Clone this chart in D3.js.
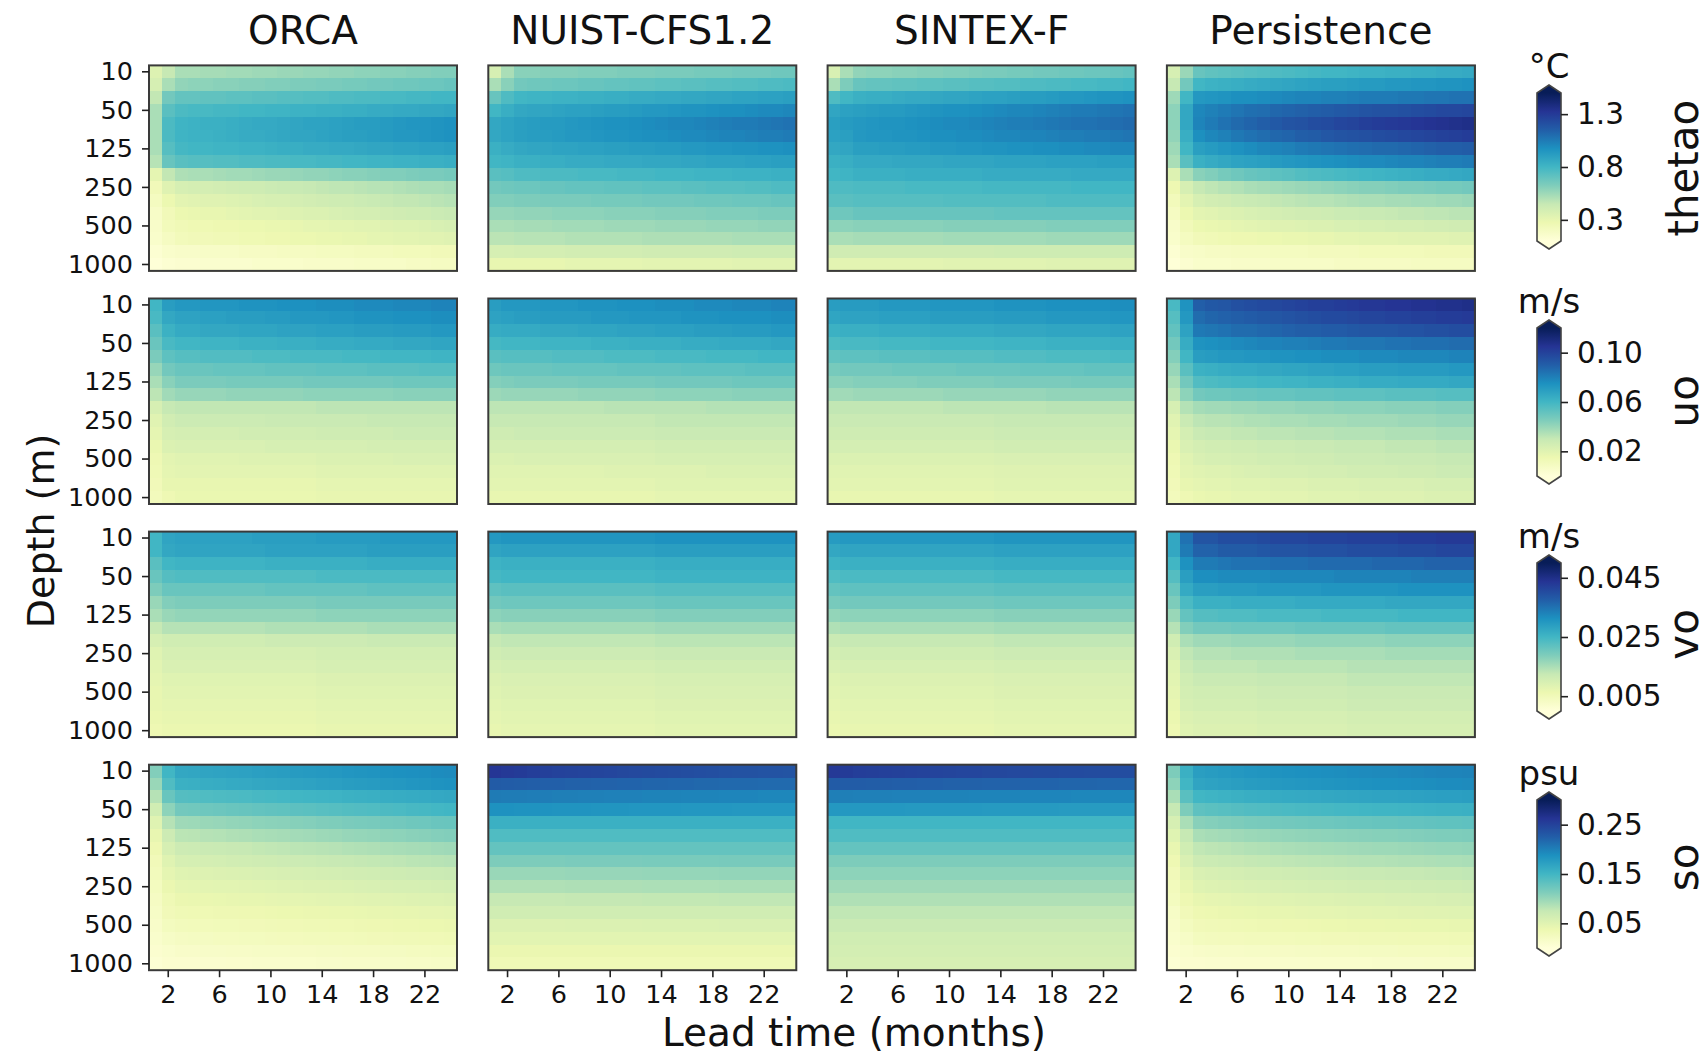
<!DOCTYPE html>
<html>
<head>
<meta charset="utf-8">
<script src="https://cdn.jsdelivr.net/npm/d3@7"></script>
<style>
body{margin:0;background:#fff}
svg{display:block;font-family:"DejaVu Sans",sans-serif}
</style>
</head>
<body>
<svg id="chart" width="1708" height="1062"></svg>
<script>
// categories
var depths = [10,20,30,50,75,100,125,150,200,250,300,400,500,600,800,1000];
var leads = [1,2,3,4,5,6,7,8,9,10,11,12,13,14,15,16,17,18,19,20,21,22,23,24];
var depthTicks = [10,50,125,250,500,1000];
var leadTicks = [2,6,10,14,18,22];
var models = ["ORCA","NUIST-CFS1.2","SINTEX-F","Persistence"];
var variables = ["thetao","uo","vo","so"];
var units = ["°C","m/s","m/s","psu"];
var cbDomains = [[0.1,1.5],[0,0.12],[0,0.05],[0,0.3]];
var cbTicks = [[0.3,0.8,1.3],[0.02,0.06,0.10],[0.005,0.025,0.045],[0.05,0.15,0.25]];
var cbFormats = [".1f",".2f",".3f",".2f"];

// thetao (degC), rows = depth, cols = lead month
var thetaoORCA = [
[.35,.45,.52,.52,.53,.53,.54,.54,.55,.55,.56,.56,.57,.57,.58,.58,.59,.59,.60,.60,.61,.61,.62,.62],
[.38,.52,.58,.59,.59,.60,.60,.61,.61,.62,.62,.63,.63,.64,.64,.65,.65,.66,.66,.67,.67,.68,.68,.69],
[.46,.66,.70,.70,.71,.71,.72,.72,.73,.73,.74,.74,.75,.75,.76,.76,.77,.77,.78,.78,.79,.79,.80,.80],
[.52,.73,.77,.78,.78,.79,.79,.80,.80,.81,.81,.82,.82,.83,.83,.84,.84,.85,.85,.86,.86,.87,.87,.88],
[.52,.77,.81,.82,.83,.83,.84,.85,.86,.86,.87,.88,.89,.89,.90,.91,.92,.92,.93,.94,.95,.95,.96,.97],
[.52,.77,.81,.82,.82,.83,.84,.85,.85,.86,.87,.88,.88,.89,.90,.91,.91,.92,.93,.94,.94,.95,.96,.97],
[.52,.74,.79,.80,.80,.81,.81,.82,.82,.83,.84,.84,.85,.85,.86,.86,.87,.88,.88,.89,.89,.90,.90,.91],
[.49,.69,.73,.74,.74,.75,.75,.76,.76,.77,.77,.78,.78,.79,.79,.80,.80,.81,.81,.82,.82,.83,.83,.84],
[.31,.46,.51,.52,.52,.53,.54,.54,.55,.56,.56,.57,.58,.58,.59,.60,.60,.61,.62,.62,.63,.64,.64,.65],
[.24,.34,.38,.39,.39,.40,.41,.42,.42,.43,.44,.44,.45,.46,.47,.47,.48,.49,.49,.50,.51,.52,.52,.53],
[.21,.28,.32,.33,.34,.34,.35,.36,.37,.38,.38,.39,.40,.41,.42,.42,.43,.44,.45,.46,.46,.47,.48,.49],
[.18,.24,.28,.29,.30,.30,.31,.32,.33,.33,.34,.35,.36,.36,.37,.38,.39,.39,.40,.41,.42,.42,.43,.44],
[.17,.23,.25,.26,.26,.27,.27,.28,.28,.29,.29,.30,.31,.31,.32,.32,.33,.33,.34,.35,.35,.36,.37,.38],
[.16,.20,.23,.24,.24,.25,.25,.26,.26,.27,.27,.28,.28,.29,.29,.30,.30,.31,.31,.32,.32,.33,.33,.34],
[.13,.16,.17,.17,.18,.18,.18,.19,.19,.19,.20,.20,.20,.21,.21,.21,.22,.22,.22,.23,.23,.23,.24,.24],
[.11,.13,.14,.14,.15,.15,.15,.15,.16,.16,.16,.16,.17,.17,.17,.17,.18,.18,.18,.18,.19,.19,.20,.20]
];
var thetaoNUIST = [
[.38,.52,.60,.60,.61,.61,.61,.62,.62,.62,.63,.63,.63,.64,.64,.64,.65,.65,.65,.66,.66,.66,.67,.67],
[.52,.60,.66,.67,.67,.68,.68,.69,.69,.70,.70,.71,.71,.72,.72,.73,.73,.74,.74,.75,.75,.76,.76,.77],
[.69,.76,.80,.81,.81,.82,.82,.83,.83,.84,.84,.85,.85,.86,.86,.87,.87,.88,.88,.89,.89,.90,.90,.91],
[.80,.84,.87,.88,.88,.89,.90,.90,.91,.92,.92,.93,.94,.94,.95,.96,.96,.97,.98,.98,.99,1.00,1.00,1.01],
[.87,.89,.91,.92,.93,.93,.94,.95,.96,.97,.97,.98,.99,1.00,1.01,1.01,1.02,1.03,1.04,1.05,1.05,1.06,1.07,1.08],
[.87,.89,.91,.92,.92,.93,.94,.94,.95,.96,.96,.97,.98,.98,.99,1.00,1.00,1.01,1.02,1.02,1.03,1.04,1.04,1.05],
[.83,.85,.87,.88,.88,.89,.89,.90,.90,.91,.91,.92,.92,.93,.93,.94,.94,.95,.95,.96,.96,.97,.97,.98],
[.80,.81,.83,.83,.84,.84,.85,.85,.85,.86,.86,.86,.87,.87,.87,.88,.88,.89,.89,.89,.90,.90,.91,.91],
[.73,.74,.76,.76,.77,.77,.77,.78,.78,.78,.79,.79,.79,.80,.80,.80,.81,.81,.81,.82,.82,.82,.83,.83],
[.66,.67,.68,.68,.69,.69,.70,.70,.70,.71,.71,.71,.72,.72,.72,.73,.73,.74,.74,.74,.75,.75,.76,.76],
[.62,.62,.63,.63,.64,.64,.64,.64,.65,.65,.65,.65,.66,.66,.66,.66,.67,.67,.67,.68,.68,.68,.69,.69],
[.57,.57,.58,.58,.58,.59,.59,.59,.59,.60,.60,.60,.60,.61,.61,.61,.61,.62,.62,.62,.62,.63,.63,.63],
[.52,.52,.53,.53,.53,.54,.54,.54,.54,.55,.55,.55,.55,.56,.56,.56,.56,.57,.57,.57,.57,.58,.58,.58],
[.48,.48,.49,.49,.49,.49,.50,.50,.50,.50,.50,.50,.51,.51,.51,.51,.51,.51,.51,.52,.52,.52,.52,.52],
[.38,.38,.39,.39,.39,.39,.40,.40,.40,.40,.40,.40,.41,.41,.41,.41,.41,.41,.41,.42,.42,.42,.42,.42],
[.30,.30,.30,.30,.30,.30,.31,.31,.31,.31,.31,.31,.32,.32,.32,.32,.32,.32,.32,.33,.33,.33,.33,.33]
];
var thetaoSINTEX = [
[.37,.52,.58,.59,.59,.60,.60,.61,.61,.62,.62,.63,.64,.64,.65,.65,.66,.66,.67,.67,.68,.68,.69,.70],
[.52,.63,.69,.70,.70,.71,.71,.72,.72,.73,.73,.74,.74,.75,.75,.76,.76,.77,.77,.78,.78,.79,.79,.80],
[.76,.80,.83,.84,.84,.85,.86,.86,.87,.88,.88,.89,.90,.90,.91,.92,.92,.93,.94,.94,.95,.96,.96,.97],
[.88,.90,.91,.92,.93,.93,.94,.95,.96,.97,.97,.98,.99,1.00,1.01,1.01,1.02,1.03,1.04,1.05,1.05,1.06,1.07,1.08],
[.91,.93,.94,.95,.96,.96,.97,.98,.99,1.00,1.00,1.01,1.02,1.03,1.04,1.04,1.05,1.06,1.07,1.08,1.08,1.09,1.10,1.11],
[.90,.91,.94,.95,.95,.96,.96,.97,.98,.98,.99,.99,1.00,1.01,1.01,1.02,1.02,1.03,1.04,1.04,1.05,1.05,1.06,1.07],
[.87,.88,.91,.91,.92,.92,.93,.93,.94,.94,.95,.95,.96,.96,.97,.97,.98,.98,.99,.99,1.00,1.00,1.01,1.01],
[.83,.84,.86,.86,.86,.87,.87,.87,.87,.88,.88,.88,.88,.89,.89,.89,.89,.90,.90,.90,.90,.91,.91,.91],
[.80,.81,.83,.83,.83,.83,.84,.84,.84,.84,.84,.84,.85,.85,.85,.85,.85,.85,.85,.86,.86,.86,.86,.86],
[.76,.76,.77,.77,.77,.77,.78,.78,.78,.78,.78,.78,.79,.79,.79,.79,.79,.79,.79,.80,.80,.80,.80,.80],
[.73,.73,.74,.74,.74,.74,.74,.74,.74,.75,.75,.75,.75,.75,.75,.75,.75,.76,.76,.76,.76,.76,.76,.76],
[.67,.67,.69,.69,.69,.69,.69,.69,.69,.69,.69,.69,.69,.70,.70,.70,.70,.70,.70,.70,.70,.70,.70,.70],
[.59,.59,.60,.60,.60,.60,.60,.60,.60,.61,.61,.61,.61,.61,.61,.61,.61,.62,.62,.62,.62,.62,.62,.62],
[.52,.52,.53,.53,.53,.53,.53,.53,.53,.54,.54,.54,.54,.54,.54,.54,.54,.55,.55,.55,.55,.55,.55,.55],
[.41,.41,.41,.41,.41,.41,.41,.41,.41,.41,.41,.41,.41,.42,.42,.42,.42,.42,.42,.42,.42,.42,.42,.42],
[.32,.32,.32,.32,.32,.32,.32,.32,.32,.33,.33,.33,.33,.33,.33,.33,.33,.34,.34,.34,.34,.34,.34,.34]
];
var thetaoPersist = [
[.38,.56,.69,.71,.72,.73,.74,.75,.76,.77,.78,.79,.80,.80,.81,.82,.82,.83,.83,.84,.84,.85,.85,.86],
[.45,.66,.80,.82,.83,.84,.85,.86,.87,.88,.89,.90,.91,.91,.92,.93,.93,.94,.94,.95,.95,.96,.96,.97],
[.55,.80,.94,.95,.96,.98,.98,.99,1.00,1.01,1.02,1.02,1.03,1.03,1.04,1.05,1.05,1.05,1.06,1.06,1.07,1.07,1.08,1.08],
[.59,.87,1.01,1.03,1.05,1.07,1.09,1.10,1.12,1.13,1.14,1.15,1.16,1.17,1.18,1.19,1.20,1.20,1.21,1.22,1.23,1.24,1.24,1.25],
[.59,.87,1.02,1.05,1.08,1.11,1.13,1.15,1.17,1.19,1.20,1.22,1.23,1.25,1.26,1.28,1.29,1.30,1.31,1.32,1.33,1.34,1.35,1.36],
[.58,.84,.98,1.01,1.03,1.06,1.08,1.10,1.12,1.13,1.15,1.16,1.18,1.19,1.20,1.21,1.22,1.23,1.24,1.25,1.26,1.27,1.28,1.29],
[.55,.80,.91,.93,.95,.97,.99,1.01,1.02,1.03,1.05,1.06,1.07,1.08,1.09,1.10,1.11,1.11,1.12,1.13,1.14,1.15,1.15,1.16],
[.52,.73,.83,.85,.87,.89,.90,.91,.93,.94,.95,.96,.97,.98,.99,1.00,1.00,1.01,1.02,1.02,1.03,1.04,1.04,1.05],
[.35,.52,.60,.62,.65,.67,.69,.70,.72,.73,.75,.76,.77,.78,.79,.80,.81,.82,.83,.84,.85,.85,.86,.87],
[.27,.38,.45,.47,.49,.50,.52,.53,.54,.55,.56,.57,.58,.59,.60,.61,.61,.62,.63,.63,.64,.65,.65,.66],
[.23,.32,.38,.40,.41,.43,.44,.45,.46,.47,.48,.49,.49,.50,.51,.52,.52,.53,.53,.54,.54,.55,.55,.56],
[.20,.28,.32,.33,.35,.36,.37,.38,.39,.40,.41,.41,.42,.43,.43,.44,.44,.45,.46,.46,.47,.47,.48,.48],
[.17,.24,.28,.29,.30,.31,.32,.33,.34,.34,.35,.36,.36,.37,.37,.38,.38,.39,.39,.39,.40,.40,.41,.41],
[.16,.21,.24,.25,.26,.27,.27,.28,.28,.29,.29,.30,.30,.31,.31,.32,.32,.32,.33,.33,.33,.33,.34,.34],
[.13,.17,.18,.19,.19,.20,.20,.20,.21,.21,.21,.22,.22,.22,.22,.23,.23,.23,.23,.23,.24,.24,.24,.24],
[.11,.14,.16,.16,.16,.17,.17,.17,.18,.18,.18,.18,.18,.19,.19,.19,.19,.19,.19,.20,.20,.20,.20,.20]
];

// uo (m/s)
var uoORCA = [
[.060,.070,.072,.072,.073,.073,.073,.074,.074,.074,.075,.075,.075,.076,.076,.076,.077,.077,.077,.078,.078,.078,.079,.079],
[.058,.066,.068,.068,.069,.069,.070,.070,.070,.071,.071,.072,.072,.072,.073,.073,.074,.074,.074,.075,.075,.075,.076,.076],
[.054,.062,.065,.065,.066,.066,.066,.067,.067,.067,.068,.068,.068,.069,.069,.069,.070,.070,.070,.071,.071,.071,.072,.072],
[.050,.058,.060,.060,.061,.061,.061,.062,.062,.062,.063,.063,.063,.064,.064,.064,.065,.065,.065,.066,.066,.066,.067,.067],
[.046,.053,.055,.055,.056,.056,.056,.056,.057,.057,.057,.058,.058,.058,.058,.059,.059,.059,.060,.060,.060,.060,.061,.061],
[.040,.048,.050,.050,.050,.051,.051,.051,.051,.052,.052,.052,.052,.053,.053,.053,.053,.054,.054,.054,.054,.055,.055,.055],
[.036,.043,.046,.046,.046,.046,.047,.047,.047,.047,.047,.047,.048,.048,.048,.048,.048,.048,.048,.049,.049,.049,.049,.049],
[.032,.038,.040,.040,.040,.040,.041,.041,.041,.041,.041,.041,.042,.042,.042,.042,.042,.042,.042,.043,.043,.043,.043,.043],
[.024,.030,.031,.031,.031,.031,.031,.031,.031,.031,.031,.031,.031,.032,.032,.032,.032,.032,.032,.032,.032,.032,.032,.032],
[.020,.026,.028,.028,.028,.028,.028,.028,.028,.029,.029,.029,.029,.029,.029,.029,.029,.030,.030,.030,.030,.030,.030,.030],
[.018,.024,.025,.025,.025,.025,.025,.026,.026,.026,.026,.026,.026,.027,.027,.027,.027,.027,.027,.028,.028,.028,.028,.028],
[.016,.022,.023,.023,.023,.023,.023,.023,.023,.024,.024,.024,.024,.024,.024,.024,.024,.025,.025,.025,.025,.025,.025,.025],
[.014,.019,.020,.020,.020,.020,.020,.021,.021,.021,.021,.021,.021,.022,.022,.022,.022,.022,.022,.023,.023,.023,.023,.023],
[.013,.018,.019,.019,.019,.019,.019,.019,.019,.019,.019,.019,.019,.020,.020,.020,.020,.020,.020,.020,.020,.020,.020,.020],
[.012,.017,.017,.017,.017,.017,.017,.017,.017,.017,.017,.017,.017,.018,.018,.018,.018,.018,.018,.018,.018,.018,.018,.018],
[.011,.014,.016,.016,.016,.016,.016,.016,.016,.016,.016,.016,.016,.017,.017,.017,.017,.017,.017,.017,.017,.017,.017,.017]
];
var uoNUIST = [
[.070,.072,.072,.072,.073,.073,.073,.074,.074,.074,.075,.075,.075,.076,.076,.076,.077,.077,.077,.078,.078,.078,.079,.079],
[.068,.069,.070,.070,.071,.071,.071,.071,.072,.072,.072,.073,.073,.073,.073,.074,.074,.074,.075,.075,.075,.075,.076,.076],
[.064,.065,.065,.065,.066,.066,.066,.067,.067,.067,.068,.068,.068,.069,.069,.069,.070,.070,.070,.071,.071,.071,.072,.072],
[.059,.060,.060,.060,.061,.061,.061,.061,.062,.062,.062,.063,.063,.063,.063,.064,.064,.064,.065,.065,.065,.065,.066,.066],
[.054,.055,.055,.055,.055,.056,.056,.056,.056,.057,.057,.057,.057,.058,.058,.058,.058,.059,.059,.059,.059,.060,.060,.060],
[.049,.050,.050,.050,.050,.051,.051,.051,.051,.051,.052,.052,.052,.052,.052,.053,.053,.053,.053,.053,.054,.054,.054,.054],
[.044,.045,.046,.046,.046,.046,.046,.047,.047,.047,.047,.047,.047,.048,.048,.048,.048,.048,.048,.049,.049,.049,.049,.049],
[.039,.040,.040,.040,.040,.040,.040,.041,.041,.041,.041,.041,.041,.042,.042,.042,.042,.042,.042,.043,.043,.043,.043,.043],
[.032,.032,.032,.032,.032,.032,.032,.032,.032,.033,.033,.033,.033,.033,.033,.033,.033,.034,.034,.034,.034,.034,.034,.034],
[.030,.030,.030,.030,.030,.030,.030,.030,.030,.030,.030,.030,.030,.031,.031,.031,.031,.031,.031,.031,.031,.031,.031,.031],
[.027,.027,.028,.028,.028,.028,.028,.028,.028,.028,.028,.028,.028,.029,.029,.029,.029,.029,.029,.029,.029,.029,.029,.029],
[.025,.025,.025,.025,.025,.025,.025,.025,.025,.025,.025,.025,.025,.026,.026,.026,.026,.026,.026,.026,.026,.026,.026,.026],
[.022,.022,.023,.023,.023,.023,.023,.023,.023,.023,.023,.023,.023,.024,.024,.024,.024,.024,.024,.024,.024,.024,.024,.024],
[.020,.020,.020,.020,.020,.020,.020,.020,.020,.021,.021,.021,.021,.021,.021,.021,.021,.022,.022,.022,.022,.022,.022,.022],
[.019,.019,.019,.019,.019,.019,.019,.019,.019,.019,.019,.019,.019,.020,.020,.020,.020,.020,.020,.020,.020,.020,.020,.020],
[.017,.017,.017,.017,.017,.017,.017,.017,.017,.017,.017,.017,.017,.018,.018,.018,.018,.018,.018,.018,.018,.018,.018,.018]
];
var uoSINTEX = [
[.070,.071,.071,.071,.072,.072,.072,.072,.073,.073,.073,.073,.073,.074,.074,.074,.074,.075,.075,.075,.075,.075,.076,.076],
[.067,.068,.068,.068,.069,.069,.069,.069,.070,.070,.070,.070,.070,.071,.071,.071,.071,.072,.072,.072,.072,.072,.073,.073],
[.062,.063,.063,.063,.064,.064,.064,.064,.065,.065,.065,.065,.065,.066,.066,.066,.066,.067,.067,.067,.067,.067,.068,.068],
[.057,.058,.058,.058,.059,.059,.059,.059,.060,.060,.060,.060,.060,.061,.061,.061,.061,.062,.062,.062,.062,.062,.063,.063],
[.052,.053,.053,.053,.054,.054,.054,.054,.055,.055,.055,.055,.055,.056,.056,.056,.056,.057,.057,.057,.057,.057,.058,.058],
[.047,.048,.048,.048,.048,.049,.049,.049,.049,.049,.050,.050,.050,.050,.050,.051,.051,.051,.051,.051,.052,.052,.052,.052],
[.043,.043,.044,.044,.044,.044,.044,.045,.045,.045,.045,.045,.045,.046,.046,.046,.046,.046,.046,.047,.047,.047,.047,.047],
[.038,.038,.039,.039,.039,.039,.039,.039,.039,.040,.040,.040,.040,.040,.040,.040,.040,.041,.041,.041,.041,.041,.041,.041],
[.031,.031,.031,.031,.031,.031,.031,.031,.031,.032,.032,.032,.032,.032,.032,.032,.032,.033,.033,.033,.033,.033,.033,.033],
[.029,.029,.029,.029,.029,.029,.029,.029,.029,.029,.029,.029,.029,.030,.030,.030,.030,.030,.030,.030,.030,.030,.030,.030],
[.027,.027,.027,.027,.027,.027,.027,.027,.027,.027,.027,.027,.027,.028,.028,.028,.028,.028,.028,.028,.028,.028,.028,.028],
[.025,.025,.025,.025,.025,.025,.025,.025,.025,.025,.025,.025,.025,.026,.026,.026,.026,.026,.026,.026,.026,.026,.026,.026],
[.022,.022,.022,.022,.022,.022,.022,.022,.022,.022,.022,.022,.022,.023,.023,.023,.023,.023,.023,.023,.023,.023,.023,.023],
[.020,.020,.020,.020,.020,.020,.020,.020,.020,.020,.020,.020,.020,.021,.021,.021,.021,.021,.021,.021,.021,.021,.021,.021],
[.019,.019,.019,.019,.019,.019,.019,.019,.019,.019,.019,.019,.019,.020,.020,.020,.020,.020,.020,.020,.020,.020,.020,.020],
[.017,.017,.017,.017,.017,.017,.017,.017,.017,.017,.017,.017,.017,.018,.018,.018,.018,.018,.018,.018,.018,.018,.018,.018]
];
var uoPersist = [
[.058,.074,.090,.092,.093,.095,.096,.097,.098,.099,.100,.101,.101,.102,.103,.104,.104,.105,.105,.106,.106,.107,.107,.108],
[.055,.072,.086,.088,.089,.090,.091,.092,.093,.094,.095,.096,.097,.097,.098,.099,.099,.100,.100,.101,.101,.102,.102,.103],
[.052,.068,.082,.083,.084,.086,.086,.087,.088,.089,.090,.090,.091,.091,.092,.093,.093,.093,.094,.094,.095,.095,.096,.096],
[.048,.064,.074,.075,.076,.077,.078,.079,.079,.080,.080,.081,.082,.082,.083,.083,.083,.084,.084,.085,.085,.085,.086,.086],
[.044,.060,.070,.071,.072,.072,.073,.073,.074,.074,.075,.075,.076,.076,.076,.077,.077,.077,.078,.078,.078,.078,.079,.079],
[.040,.054,.062,.063,.064,.065,.065,.066,.066,.067,.067,.068,.068,.069,.069,.070,.070,.070,.071,.071,.071,.071,.072,.072],
[.036,.048,.056,.057,.058,.059,.059,.060,.060,.061,.061,.062,.062,.063,.063,.064,.064,.064,.065,.065,.065,.065,.066,.066],
[.032,.042,.048,.049,.049,.050,.050,.051,.051,.051,.052,.052,.052,.053,.053,.053,.053,.054,.054,.054,.054,.055,.055,.055],
[.024,.034,.037,.038,.038,.039,.039,.040,.040,.040,.041,.041,.041,.042,.042,.042,.042,.043,.043,.043,.043,.044,.044,.044],
[.020,.029,.032,.033,.033,.034,.035,.035,.036,.036,.036,.037,.037,.037,.038,.038,.038,.038,.039,.039,.039,.040,.040,.040],
[.018,.025,.029,.030,.030,.031,.031,.032,.032,.032,.033,.033,.033,.034,.034,.034,.034,.035,.035,.035,.035,.036,.036,.036],
[.016,.023,.025,.026,.026,.027,.027,.028,.028,.028,.029,.029,.029,.030,.030,.030,.030,.031,.031,.031,.031,.032,.032,.032],
[.014,.020,.023,.024,.024,.025,.025,.026,.026,.026,.027,.027,.027,.028,.028,.028,.028,.029,.029,.029,.029,.030,.030,.030],
[.013,.019,.020,.021,.021,.022,.023,.023,.024,.024,.024,.025,.025,.025,.026,.026,.026,.026,.027,.027,.027,.028,.028,.028],
[.012,.017,.018,.019,.019,.020,.020,.020,.021,.021,.021,.022,.022,.022,.022,.023,.023,.023,.023,.023,.024,.024,.024,.024],
[.011,.014,.016,.017,.017,.018,.018,.018,.019,.019,.019,.020,.020,.020,.020,.021,.021,.021,.021,.021,.022,.022,.022,.022]
];

// vo (m/s)
var voORCA = [
[.025,.028,.0285,.0285,.0285,.0285,.0285,.0285,.029,.029,.029,.029,.029,.0295,.0295,.0295,.0295,.0295,.030,.030,.030,.030,.030,.030],
[.025,.0275,.028,.028,.028,.028,.028,.028,.028,.0285,.0285,.0285,.0285,.0285,.0285,.0285,.0285,.029,.029,.029,.029,.029,.029,.029],
[.0225,.025,.0255,.0255,.0255,.0255,.0255,.0255,.0255,.026,.026,.026,.026,.026,.026,.026,.026,.0265,.0265,.0265,.0265,.0265,.0265,.0265],
[.021,.023,.0235,.0235,.0235,.0235,.0235,.0235,.0235,.0235,.0235,.0235,.0235,.024,.024,.024,.024,.024,.024,.024,.024,.024,.024,.024],
[.019,.021,.021,.021,.021,.021,.021,.021,.021,.0215,.0215,.0215,.0215,.0215,.0215,.0215,.0215,.022,.022,.022,.022,.022,.022,.022],
[.0165,.0185,.019,.019,.019,.019,.019,.019,.019,.019,.019,.019,.019,.0195,.0195,.0195,.0195,.0195,.0195,.0195,.0195,.0195,.0195,.0195],
[.015,.0165,.017,.017,.017,.017,.017,.017,.017,.017,.017,.017,.017,.0175,.0175,.0175,.0175,.0175,.0175,.0175,.0175,.0175,.0175,.0175],
[.0125,.014,.014,.014,.014,.014,.014,.014,.014,.0145,.0145,.0145,.0145,.0145,.0145,.0145,.0145,.015,.015,.015,.015,.015,.015,.015],
[.010,.011,.011,.011,.011,.011,.011,.011,.011,.0115,.0115,.0115,.0115,.0115,.0115,.0115,.0115,.012,.012,.012,.012,.012,.012,.012],
[.0085,.010,.010,.010,.010,.010,.010,.010,.010,.010,.010,.010,.010,.0105,.0105,.0105,.0105,.0105,.0105,.0105,.0105,.0105,.0105,.0105],
[.008,.0095,.0095,.0095,.0095,.0095,.0095,.0095,.0095,.0095,.0095,.0095,.0095,.010,.010,.010,.010,.010,.010,.010,.010,.010,.010,.010],
[.0075,.0085,.0085,.0085,.0085,.0085,.0085,.0085,.0085,.0085,.0085,.0085,.0085,.009,.009,.009,.009,.009,.009,.009,.009,.009,.009,.009],
[.007,.008,.008,.008,.008,.008,.008,.008,.008,.008,.008,.008,.008,.0085,.0085,.0085,.0085,.0085,.0085,.0085,.0085,.0085,.0085,.0085],
[.007,.0075,.0075,.0075,.0075,.0075,.0075,.0075,.0075,.0075,.0075,.0075,.0075,.008,.008,.008,.008,.008,.008,.008,.008,.008,.008,.008],
[.0065,.007,.007,.007,.007,.007,.007,.007,.007,.007,.007,.007,.007,.0075,.0075,.0075,.0075,.0075,.0075,.0075,.0075,.0075,.0075,.0075],
[.006,.0065,.0065,.0065,.0065,.0065,.0065,.0065,.0065,.0065,.0065,.0065,.0065,.007,.007,.007,.007,.007,.007,.007,.007,.007,.007,.007]
];
var voNUIST = [
[.030,.0305,.0305,.0305,.0305,.0305,.0305,.0305,.0305,.0305,.0305,.0305,.0305,.031,.031,.031,.031,.031,.031,.031,.031,.031,.031,.031],
[.028,.0285,.0285,.0285,.0285,.0285,.0285,.0285,.0285,.0285,.0285,.0285,.0285,.029,.029,.029,.029,.029,.029,.029,.029,.029,.029,.029],
[.0255,.026,.026,.026,.026,.026,.026,.026,.026,.026,.026,.026,.026,.0265,.0265,.0265,.0265,.0265,.0265,.0265,.0265,.0265,.0265,.0265],
[.0245,.025,.025,.025,.025,.025,.025,.025,.025,.025,.025,.025,.025,.0255,.0255,.0255,.0255,.0255,.0255,.0255,.0255,.0255,.0255,.0255],
[.022,.0225,.0225,.0225,.0225,.0225,.0225,.0225,.0225,.0225,.0225,.0225,.0225,.023,.023,.023,.023,.023,.023,.023,.023,.023,.023,.023],
[.020,.0205,.0205,.0205,.0205,.0205,.0205,.0205,.0205,.0205,.0205,.0205,.0205,.021,.021,.021,.021,.021,.021,.021,.021,.021,.021,.021],
[.0175,.018,.018,.018,.018,.018,.018,.018,.018,.018,.018,.018,.018,.0185,.0185,.0185,.0185,.0185,.0185,.0185,.0185,.0185,.0185,.0185],
[.015,.0155,.0155,.0155,.0155,.0155,.0155,.0155,.0155,.0155,.0155,.0155,.0155,.016,.016,.016,.016,.016,.016,.016,.016,.016,.016,.016],
[.0125,.013,.013,.013,.013,.013,.013,.013,.013,.013,.013,.013,.013,.0135,.0135,.0135,.0135,.0135,.0135,.0135,.0135,.0135,.0135,.0135],
[.011,.0115,.0115,.0115,.0115,.0115,.0115,.0115,.0115,.0115,.0115,.0115,.0115,.012,.012,.012,.012,.012,.012,.012,.012,.012,.012,.012],
[.010,.0105,.0105,.0105,.0105,.0105,.0105,.0105,.0105,.0105,.0105,.0105,.0105,.011,.011,.011,.011,.011,.011,.011,.011,.011,.011,.011],
[.009,.0095,.0095,.0095,.0095,.0095,.0095,.0095,.0095,.0095,.0095,.0095,.0095,.010,.010,.010,.010,.010,.010,.010,.010,.010,.010,.010],
[.0085,.009,.009,.009,.009,.009,.009,.009,.009,.009,.009,.009,.009,.0095,.0095,.0095,.0095,.0095,.0095,.0095,.0095,.0095,.0095,.0095],
[.008,.0085,.0085,.0085,.0085,.0085,.0085,.0085,.0085,.0085,.0085,.0085,.0085,.009,.009,.009,.009,.009,.009,.009,.009,.009,.009,.009],
[.0075,.008,.008,.008,.008,.008,.008,.008,.008,.008,.008,.008,.008,.0085,.0085,.0085,.0085,.0085,.0085,.0085,.0085,.0085,.0085,.0085],
[.007,.0075,.0075,.0075,.0075,.0075,.0075,.0075,.0075,.0075,.0075,.0075,.0075,.008,.008,.008,.008,.008,.008,.008,.008,.008,.008,.008]
];
var voSINTEX = [
[.0295,.030,.030,.030,.030,.030,.030,.030,.030,.030,.030,.030,.030,.0305,.0305,.0305,.0305,.0305,.0305,.0305,.0305,.0305,.0305,.0305],
[.0275,.028,.028,.028,.028,.028,.028,.028,.028,.028,.028,.028,.028,.0285,.0285,.0285,.0285,.0285,.0285,.0285,.0285,.0285,.0285,.0285],
[.0255,.026,.026,.026,.026,.026,.026,.026,.026,.026,.026,.026,.026,.0265,.0265,.0265,.0265,.0265,.0265,.0265,.0265,.0265,.0265,.0265],
[.0235,.024,.024,.024,.024,.024,.024,.024,.024,.024,.024,.024,.024,.0245,.0245,.0245,.0245,.0245,.0245,.0245,.0245,.0245,.0245,.0245],
[.0215,.022,.022,.022,.022,.022,.022,.022,.022,.022,.022,.022,.022,.0225,.0225,.0225,.0225,.0225,.0225,.0225,.0225,.0225,.0225,.0225],
[.0195,.020,.020,.020,.020,.020,.020,.020,.020,.020,.020,.020,.020,.0205,.0205,.0205,.0205,.0205,.0205,.0205,.0205,.0205,.0205,.0205],
[.017,.0175,.0175,.0175,.0175,.0175,.0175,.0175,.0175,.0175,.0175,.0175,.0175,.018,.018,.018,.018,.018,.018,.018,.018,.018,.018,.018],
[.0145,.015,.015,.015,.015,.015,.015,.015,.015,.015,.015,.015,.015,.0155,.0155,.0155,.0155,.0155,.0155,.0155,.0155,.0155,.0155,.0155],
[.012,.0125,.0125,.0125,.0125,.0125,.0125,.0125,.0125,.0125,.0125,.0125,.0125,.013,.013,.013,.013,.013,.013,.013,.013,.013,.013,.013],
[.0105,.011,.011,.011,.011,.011,.011,.011,.011,.011,.011,.011,.011,.0115,.0115,.0115,.0115,.0115,.0115,.0115,.0115,.0115,.0115,.0115],
[.0095,.010,.010,.010,.010,.010,.010,.010,.010,.010,.010,.010,.010,.0105,.0105,.0105,.0105,.0105,.0105,.0105,.0105,.0105,.0105,.0105],
[.0085,.009,.009,.009,.009,.009,.009,.009,.009,.009,.009,.009,.009,.0095,.0095,.0095,.0095,.0095,.0095,.0095,.0095,.0095,.0095,.0095],
[.008,.0085,.0085,.0085,.0085,.0085,.0085,.0085,.0085,.0085,.0085,.0085,.0085,.009,.009,.009,.009,.009,.009,.009,.009,.009,.009,.009],
[.0075,.008,.008,.008,.008,.008,.008,.008,.008,.008,.008,.008,.008,.0085,.0085,.0085,.0085,.0085,.0085,.0085,.0085,.0085,.0085,.0085],
[.007,.0075,.0075,.0075,.0075,.0075,.0075,.0075,.0075,.0075,.0075,.0075,.0075,.008,.008,.008,.008,.008,.008,.008,.008,.008,.008,.008],
[.0065,.007,.007,.007,.007,.007,.007,.007,.007,.007,.007,.007,.007,.0075,.0075,.0075,.0075,.0075,.0075,.0075,.0075,.0075,.0075,.0075]
];
var voPersist = [
[.0275,.035,.039,.039,.040,.040,.040,.0405,.041,.041,.041,.0415,.0415,.0415,.042,.042,.042,.042,.0425,.0425,.0425,.043,.043,.043],
[.0275,.034,.037,.037,.038,.038,.038,.0385,.039,.039,.039,.0395,.0395,.0395,.040,.040,.040,.040,.0405,.0405,.0405,.041,.041,.041],
[.025,.031,.034,.034,.0345,.035,.035,.035,.0355,.0355,.0355,.036,.036,.036,.036,.036,.0365,.0365,.0365,.0365,.037,.037,.037,.037],
[.023,.029,.0315,.0315,.032,.032,.032,.032,.0325,.0325,.0325,.0325,.0325,.033,.033,.033,.033,.033,.033,.0335,.0335,.0335,.0335,.0335],
[.021,.027,.029,.029,.0295,.0295,.0295,.030,.030,.030,.030,.030,.0305,.0305,.0305,.0305,.0305,.0305,.031,.031,.031,.031,.031,.031],
[.019,.024,.026,.026,.026,.0265,.0265,.0265,.0265,.0265,.027,.027,.027,.027,.027,.027,.027,.0275,.0275,.0275,.0275,.0275,.0275,.0275],
[.0165,.0215,.023,.023,.0235,.0235,.0235,.024,.024,.024,.024,.024,.0245,.0245,.0245,.0245,.0245,.0245,.025,.025,.025,.025,.025,.025],
[.014,.0185,.020,.020,.020,.0205,.0205,.0205,.0205,.0205,.021,.021,.021,.021,.021,.021,.021,.0215,.0215,.0215,.0215,.0215,.0215,.0215],
[.011,.015,.016,.016,.016,.0165,.0165,.0165,.0165,.0165,.017,.017,.017,.017,.017,.017,.017,.0175,.0175,.0175,.0175,.0175,.0175,.0175],
[.0095,.013,.014,.014,.014,.0145,.0145,.0145,.0145,.0145,.015,.015,.015,.015,.015,.015,.015,.0155,.0155,.0155,.0155,.0155,.0155,.0155],
[.0085,.012,.013,.013,.013,.013,.013,.0135,.0135,.0135,.0135,.0135,.0135,.0135,.014,.014,.014,.014,.014,.014,.014,.014,.014,.014],
[.008,.011,.012,.012,.012,.012,.012,.0125,.0125,.0125,.0125,.0125,.0125,.0125,.013,.013,.013,.013,.013,.013,.013,.013,.013,.013],
[.0075,.0105,.011,.011,.011,.011,.011,.0115,.0115,.0115,.0115,.0115,.0115,.0115,.012,.012,.012,.012,.012,.012,.012,.012,.012,.012],
[.007,.010,.0105,.0105,.0105,.0105,.0105,.011,.011,.011,.011,.011,.011,.011,.0115,.0115,.0115,.0115,.0115,.0115,.0115,.0115,.0115,.0115],
[.0065,.009,.0095,.0095,.0095,.0095,.0095,.010,.010,.010,.010,.010,.010,.010,.0105,.0105,.0105,.0105,.0105,.0105,.0105,.0105,.0105,.0105],
[.006,.0085,.009,.009,.009,.009,.009,.0095,.0095,.0095,.0095,.0095,.0095,.0095,.010,.010,.010,.010,.010,.010,.010,.010,.010,.010]
];

// so (psu)
var soORCA = [
[.111,.150,.165,.166,.168,.169,.170,.171,.173,.174,.175,.177,.178,.179,.180,.182,.183,.184,.186,.187,.188,.189,.191,.192],
[.099,.141,.156,.157,.159,.160,.162,.163,.165,.166,.167,.169,.170,.172,.173,.175,.176,.177,.179,.180,.182,.183,.185,.186],
[.084,.126,.138,.139,.141,.142,.143,.144,.146,.147,.148,.150,.151,.152,.153,.155,.156,.157,.159,.160,.161,.162,.164,.165],
[.066,.105,.120,.121,.123,.124,.126,.127,.129,.130,.131,.133,.134,.136,.137,.139,.140,.141,.143,.144,.146,.147,.149,.150],
[.051,.084,.096,.097,.099,.100,.102,.103,.105,.106,.107,.109,.110,.112,.113,.115,.116,.117,.119,.120,.122,.123,.125,.126],
[.042,.069,.081,.082,.084,.085,.087,.088,.090,.091,.092,.094,.095,.097,.098,.100,.101,.102,.104,.105,.107,.108,.110,.111],
[.036,.060,.069,.070,.072,.073,.074,.075,.077,.078,.079,.081,.082,.083,.084,.086,.087,.088,.090,.091,.092,.093,.095,.096],
[.030,.051,.060,.061,.062,.063,.065,.066,.067,.068,.069,.070,.071,.073,.074,.075,.076,.077,.078,.079,.081,.082,.083,.084],
[.027,.045,.051,.052,.053,.054,.055,.056,.057,.058,.059,.060,.061,.062,.063,.064,.065,.066,.067,.068,.069,.070,.071,.072],
[.024,.039,.045,.046,.047,.048,.048,.049,.050,.051,.052,.053,.054,.054,.055,.056,.057,.058,.059,.060,.060,.061,.062,.063],
[.021,.033,.039,.040,.040,.041,.042,.043,.043,.044,.045,.045,.046,.047,.048,.048,.049,.050,.050,.051,.052,.053,.053,.054],
[.018,.030,.033,.034,.034,.035,.035,.036,.036,.037,.038,.038,.039,.039,.040,.040,.041,.042,.042,.043,.043,.044,.044,.045],
[.015,.024,.027,.028,.028,.029,.029,.030,.030,.031,.032,.032,.033,.033,.034,.034,.035,.036,.036,.037,.037,.038,.038,.039],
[.012,.018,.021,.022,.022,.023,.023,.024,.024,.025,.026,.026,.027,.027,.028,.028,.029,.030,.030,.031,.031,.032,.032,.033],
[.009,.012,.015,.015,.016,.016,.017,.017,.018,.018,.018,.019,.019,.020,.020,.021,.021,.021,.022,.022,.023,.023,.024,.024],
[.006,.009,.009,.009,.010,.010,.011,.011,.012,.012,.012,.013,.013,.014,.014,.015,.015,.015,.016,.016,.017,.017,.018,.018]
];
var soNUIST = [
[.261,.258,.256,.254,.252,.250,.249,.248,.247,.246,.245,.244,.243,.242,.241,.240,.239,.238,.237,.236,.236,.235,.235,.234],
[.228,.227,.226,.225,.224,.224,.223,.223,.222,.222,.221,.221,.220,.220,.219,.219,.218,.218,.217,.217,.217,.216,.216,.216],
[.204,.203,.203,.202,.202,.201,.201,.200,.200,.199,.199,.199,.198,.198,.198,.197,.197,.197,.196,.196,.196,.195,.195,.195],
[.186,.186,.185,.185,.185,.184,.184,.184,.183,.183,.183,.182,.182,.182,.182,.181,.181,.181,.181,.180,.180,.180,.180,.180],
[.156,.156,.156,.156,.156,.156,.156,.156,.156,.156,.156,.156,.156,.156,.156,.156,.156,.156,.156,.156,.156,.156,.156,.156],
[.141,.141,.141,.141,.141,.141,.141,.141,.141,.141,.141,.141,.141,.141,.141,.141,.141,.141,.141,.141,.141,.141,.141,.141],
[.129,.129,.129,.129,.129,.129,.129,.129,.129,.129,.129,.129,.129,.129,.129,.129,.129,.129,.129,.129,.129,.129,.129,.129],
[.114,.114,.114,.114,.114,.114,.115,.115,.115,.115,.115,.115,.116,.116,.116,.116,.116,.116,.117,.117,.117,.117,.117,.117],
[.099,.099,.099,.099,.099,.099,.100,.100,.100,.100,.100,.100,.101,.101,.101,.101,.101,.101,.102,.102,.102,.102,.102,.102],
[.087,.087,.087,.087,.087,.087,.088,.088,.088,.088,.088,.088,.089,.089,.089,.089,.089,.089,.090,.090,.090,.090,.090,.090],
[.075,.075,.075,.075,.075,.075,.076,.076,.076,.076,.076,.076,.077,.077,.077,.077,.077,.077,.078,.078,.078,.078,.078,.078],
[.066,.066,.066,.066,.066,.066,.066,.066,.066,.066,.066,.066,.066,.066,.066,.066,.066,.066,.066,.066,.066,.066,.066,.066],
[.054,.054,.054,.054,.054,.054,.055,.055,.055,.055,.055,.055,.056,.056,.056,.056,.056,.056,.057,.057,.057,.057,.057,.057],
[.048,.048,.048,.048,.048,.048,.048,.048,.048,.048,.048,.048,.048,.048,.048,.048,.048,.048,.048,.048,.048,.048,.048,.048],
[.039,.039,.039,.039,.039,.039,.039,.039,.039,.039,.039,.039,.039,.039,.039,.039,.039,.039,.039,.039,.039,.039,.039,.039],
[.033,.033,.033,.033,.033,.033,.033,.033,.033,.033,.033,.033,.033,.033,.033,.033,.033,.033,.033,.033,.033,.033,.033,.033]
];
var soSINTEX = [
[.258,.256,.254,.253,.252,.251,.250,.249,.248,.247,.246,.246,.245,.245,.244,.244,.243,.243,.242,.242,.241,.241,.240,.240],
[.228,.227,.227,.226,.226,.225,.225,.224,.224,.223,.223,.223,.222,.222,.222,.221,.221,.221,.220,.220,.220,.219,.219,.219],
[.201,.201,.200,.200,.200,.199,.199,.199,.198,.198,.198,.197,.197,.197,.197,.196,.196,.196,.196,.195,.195,.195,.195,.195],
[.180,.180,.180,.180,.180,.180,.179,.179,.179,.179,.179,.179,.178,.178,.178,.178,.178,.178,.177,.177,.177,.177,.177,.177],
[.150,.150,.150,.150,.150,.150,.150,.150,.150,.150,.150,.150,.150,.150,.150,.150,.150,.150,.150,.150,.150,.150,.150,.150],
[.141,.141,.141,.141,.141,.141,.141,.141,.141,.141,.141,.141,.141,.141,.141,.141,.141,.141,.141,.141,.141,.141,.141,.141],
[.129,.129,.129,.129,.129,.129,.129,.129,.129,.129,.129,.129,.129,.129,.129,.129,.129,.129,.129,.129,.129,.129,.129,.129],
[.114,.114,.114,.114,.114,.114,.114,.114,.114,.114,.114,.114,.114,.114,.114,.114,.114,.114,.114,.114,.114,.114,.114,.114],
[.105,.105,.105,.105,.105,.105,.105,.105,.105,.105,.105,.105,.105,.105,.105,.105,.105,.105,.105,.105,.105,.105,.105,.105],
[.096,.096,.096,.096,.096,.096,.096,.096,.096,.096,.096,.096,.096,.096,.096,.096,.096,.096,.096,.096,.096,.096,.096,.096],
[.087,.087,.087,.087,.087,.087,.087,.087,.087,.087,.087,.087,.087,.087,.087,.087,.087,.087,.087,.087,.087,.087,.087,.087],
[.078,.078,.078,.078,.078,.078,.078,.078,.078,.078,.078,.078,.078,.078,.078,.078,.078,.078,.078,.078,.078,.078,.078,.078],
[.072,.072,.072,.072,.072,.072,.072,.072,.072,.072,.072,.072,.072,.072,.072,.072,.072,.072,.072,.072,.072,.072,.072,.072],
[.066,.066,.066,.066,.066,.066,.066,.066,.066,.066,.066,.066,.066,.066,.066,.066,.066,.066,.066,.066,.066,.066,.066,.066],
[.063,.063,.063,.063,.063,.063,.063,.063,.063,.063,.063,.063,.063,.063,.063,.063,.063,.063,.063,.063,.063,.063,.063,.063],
[.060,.060,.060,.060,.060,.060,.060,.060,.060,.060,.060,.060,.060,.060,.060,.060,.060,.060,.060,.060,.060,.060,.060,.060]
];
var soPersist = [
[.114,.156,.174,.176,.178,.180,.182,.183,.185,.186,.187,.188,.189,.190,.191,.192,.193,.193,.194,.195,.196,.197,.197,.198],
[.105,.150,.168,.170,.172,.174,.176,.177,.179,.180,.181,.182,.183,.184,.185,.186,.187,.187,.188,.189,.190,.191,.191,.192],
[.090,.135,.150,.152,.154,.156,.158,.159,.161,.162,.163,.164,.165,.166,.167,.168,.169,.169,.170,.171,.172,.173,.173,.174],
[.075,.114,.132,.134,.136,.138,.140,.141,.143,.144,.145,.146,.147,.148,.149,.150,.151,.151,.152,.153,.154,.155,.155,.156],
[.060,.090,.108,.110,.112,.114,.116,.117,.119,.120,.121,.122,.123,.124,.125,.126,.127,.127,.128,.129,.130,.131,.131,.132],
[.051,.075,.090,.092,.094,.096,.098,.099,.101,.102,.103,.104,.105,.106,.107,.108,.109,.109,.110,.111,.112,.113,.113,.114],
[.042,.066,.078,.080,.082,.084,.086,.087,.089,.090,.091,.092,.093,.094,.095,.096,.097,.097,.098,.099,.100,.101,.101,.102],
[.036,.057,.069,.071,.073,.074,.076,.077,.078,.079,.080,.081,.082,.083,.084,.085,.085,.086,.087,.087,.088,.089,.089,.090],
[.030,.048,.057,.059,.061,.062,.064,.065,.066,.067,.068,.069,.070,.071,.072,.073,.073,.074,.075,.075,.076,.077,.077,.078],
[.027,.042,.051,.053,.054,.056,.057,.058,.059,.060,.061,.062,.062,.063,.064,.065,.065,.066,.066,.067,.067,.068,.068,.069],
[.024,.036,.042,.044,.045,.047,.048,.049,.050,.051,.052,.053,.053,.054,.055,.056,.056,.057,.057,.058,.058,.059,.059,.060],
[.018,.030,.036,.037,.039,.040,.041,.042,.043,.043,.044,.045,.045,.046,.047,.047,.048,.048,.049,.049,.050,.050,.051,.051],
[.015,.024,.030,.031,.032,.033,.034,.035,.035,.036,.036,.037,.038,.038,.039,.039,.039,.040,.040,.041,.041,.041,.042,.042],
[.012,.018,.024,.025,.026,.026,.027,.027,.028,.028,.029,.029,.030,.030,.030,.031,.031,.031,.032,.032,.032,.032,.033,.033],
[.009,.012,.015,.016,.017,.017,.018,.018,.019,.019,.020,.020,.021,.021,.021,.022,.022,.022,.023,.023,.023,.023,.024,.024],
[.006,.009,.009,.010,.010,.011,.011,.011,.012,.012,.012,.013,.013,.013,.013,.013,.014,.014,.014,.014,.015,.015,.015,.015]
];

var grid = [
  [thetaoORCA, thetaoNUIST, thetaoSINTEX, thetaoPersist],
  [uoORCA, uoNUIST, uoSINTEX, uoPersist],
  [voORCA, voNUIST, voSINTEX, voPersist],
  [soORCA, soNUIST, soSINTEX, soPersist]
];

// YlGnBu (matplotlib / ColorBrewer 9-class)
var ylgnbu = ["#ffffd9","#edf8b1","#c7e9b4","#7fcdbb","#41b6c4","#1d91c0","#225ea8","#253494","#081d58"];

var svg = d3.select("#chart");
var font = "DejaVu Sans";
var panelX = [149, 488.3, 827.6, 1166.9];
var panelY = [65.4, 298.5, 531.6, 764.7];
var pw = 308, ph = 205.5;
var cbX = 1537, cbW = 24, cbH = 148;
var cbTop = [93, 328, 563, 800];

var x = d3.scaleBand().domain(leads).range([0, pw]);
var y = d3.scaleBand().domain(depths).range([0, ph]);

var defs = svg.append("defs");

variables.forEach(function(v, i) {
  var lo = cbDomains[i][0], hi = cbDomains[i][1];
  var color = d3.scaleLinear()
      .domain(ylgnbu.map(function(c, k){ return lo + (hi - lo) * k / (ylgnbu.length - 1); }))
      .range(ylgnbu)
      .interpolate(d3.interpolateRgb)
      .clamp(true);

  models.forEach(function(m, j) {
    var g = svg.append("g").attr("transform", "translate(" + panelX[j] + "," + panelY[i] + ")");
    var cells = [];
    grid[i][j].forEach(function(row, r) {
      row.forEach(function(val, c) { cells.push({depth: depths[r], lead: leads[c], value: val}); });
    });
    g.selectAll("rect.cell").data(cells).enter().append("rect")
      .attr("class", "cell")
      .attr("x", function(d){ return x(d.lead); })
      .attr("y", function(d){ return y(d.depth); })
      .attr("width", x.bandwidth() + 0.6)
      .attr("height", y.bandwidth() + 0.6)
      .attr("fill", function(d){ return color(d.value); })
      .attr("shape-rendering", "crispEdges");

    g.append("rect")
      .attr("width", pw).attr("height", ph)
      .attr("fill", "none").attr("stroke", "#3a3a3a").attr("stroke-width", 2);

    if (j === 0) {
      var ay = g.append("g").call(d3.axisLeft(y).tickValues(depthTicks).tickSize(7).tickPadding(9));
      ay.select(".domain").remove();
      ay.selectAll("line").attr("stroke", "#222").attr("stroke-width", 1.6);
      ay.selectAll("text").attr("font-family", font).attr("font-size", 25.5).attr("fill", "#111");
    }
    if (i === variables.length - 1) {
      var ax = g.append("g").attr("transform", "translate(0," + ph + ")")
        .call(d3.axisBottom(x).tickValues(leadTicks).tickSize(7).tickPadding(8));
      ax.select(".domain").remove();
      ax.selectAll("line").attr("stroke", "#222").attr("stroke-width", 1.6);
      ax.selectAll("text").attr("font-family", font).attr("font-size", 25.5).attr("fill", "#111");
    }
    if (i === 0) {
      svg.append("text")
        .attr("x", panelX[j] + pw / 2).attr("y", 44)
        .attr("text-anchor", "middle")
        .attr("font-family", font).attr("font-size", 39).attr("fill", "#111")
        .text(m);
    }
  });

  // colorbar with extend triangles
  var grad = defs.append("linearGradient").attr("id", "cb" + i)
      .attr("x1", 0).attr("y1", 1).attr("x2", 0).attr("y2", 0);
  ylgnbu.forEach(function(c, k) {
    grad.append("stop").attr("offset", k / (ylgnbu.length - 1)).attr("stop-color", c);
  });
  var cb = svg.append("g").attr("transform", "translate(" + cbX + "," + cbTop[i] + ")");
  var tri = 8;
  cb.append("path").attr("d", "M0,0L" + cbW / 2 + "," + (-tri) + "L" + cbW + ",0Z").attr("fill", ylgnbu[8]);
  cb.append("path").attr("d", "M0," + cbH + "L" + cbW / 2 + "," + (cbH + tri) + "L" + cbW + "," + cbH + "Z").attr("fill", ylgnbu[0]);
  cb.append("rect").attr("width", cbW).attr("height", cbH).attr("fill", "url(#cb" + i + ")");
  cb.append("path")
    .attr("d", "M0,0L" + cbW / 2 + "," + (-tri) + "L" + cbW + ",0L" + cbW + "," + cbH +
               "L" + cbW / 2 + "," + (cbH + tri) + "L0," + cbH + "Z")
    .attr("fill", "none").attr("stroke", "#444").attr("stroke-width", 1.6);

  var cbScale = d3.scaleLinear().domain([lo, hi]).range([cbH, 0]);
  var ac = cb.append("g").attr("transform", "translate(" + cbW + ",0)")
    .call(d3.axisRight(cbScale).tickValues(cbTicks[i]).tickFormat(d3.format(cbFormats[i])).tickSize(7).tickPadding(9));
  ac.select(".domain").remove();
  ac.selectAll("line").attr("stroke", "#222").attr("stroke-width", 1.6);
  ac.selectAll("text").attr("font-family", font).attr("font-size", 29.5).attr("fill", "#111");

  svg.append("text")
    .attr("x", cbX + cbW / 2).attr("y", cbTop[i] - 15)
    .attr("text-anchor", "middle")
    .attr("font-family", font).attr("font-size", 34).attr("fill", "#111")
    .text(units[i]);

  svg.append("text")
    .attr("transform", "translate(1698," + (panelY[i] + ph / 2) + ") rotate(-90)")
    .attr("text-anchor", "middle")
    .attr("font-family", font).attr("font-size", 42).attr("fill", "#111")
    .text(v);
});

svg.append("text")
  .attr("x", 854).attr("y", 1046)
  .attr("text-anchor", "middle")
  .attr("font-family", font).attr("font-size", 39).attr("fill", "#111")
  .text("Lead time (months)");

svg.append("text")
  .attr("transform", "translate(54,531) rotate(-90)")
  .attr("text-anchor", "middle")
  .attr("font-family", font).attr("font-size", 38).attr("fill", "#111")
  .text("Depth (m)");
</script>
</body>
</html>
